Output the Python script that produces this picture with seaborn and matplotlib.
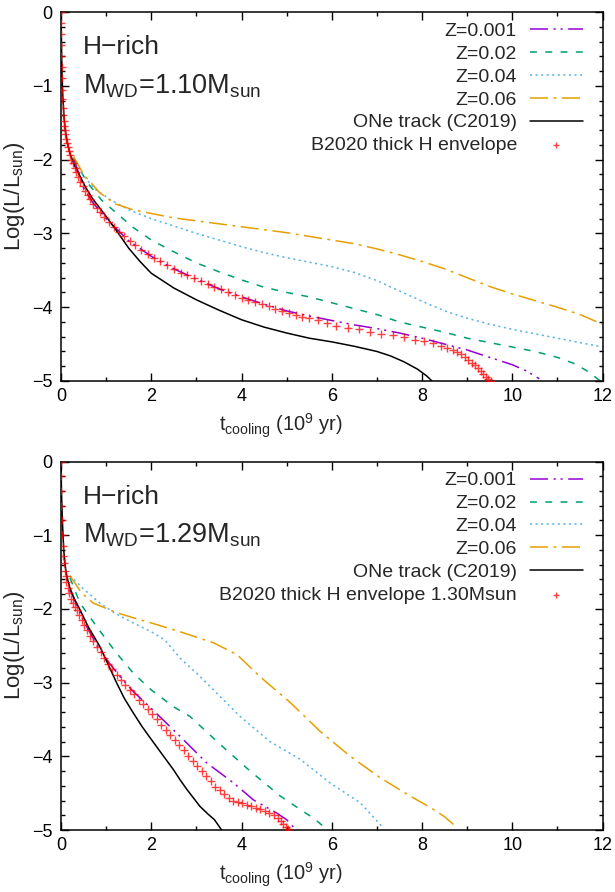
import matplotlib
matplotlib.use('Agg')
import matplotlib.pyplot as plt
from matplotlib.ticker import MultipleLocator
import seaborn as sns

# ---------------- top panel: M_WD = 1.10 Msun ----------------
top_one_x = [0.0, 0.01, 0.02, 0.04, 0.07, 0.1, 0.15, 0.2, 0.3, 0.4, 0.55, 0.7, 0.85, 1.0,
             1.25, 1.5, 1.75, 2.0, 2.5, 3.0, 3.5, 4.0, 4.5, 5.0, 5.5, 6.0, 6.5, 7.0,
             7.3, 7.6, 7.9, 8.1, 8.22]
top_one_y = [0.0, -0.4, -0.8, -1.15, -1.45, -1.62, -1.8, -1.92, -2.08, -2.2, -2.38, -2.53,
             -2.65, -2.77, -2.98, -3.2, -3.38, -3.54, -3.74, -3.9, -4.04, -4.17, -4.27,
             -4.35, -4.42, -4.47, -4.53, -4.6, -4.66, -4.74, -4.84, -4.93, -5.0]

top_z001_x = [0.28, 0.5, 0.7, 1.0, 1.5, 2.0, 2.5, 3.0, 3.5, 4.0, 4.5, 5.0, 5.5, 6.0, 6.5,
              7.0, 7.5, 8.0, 8.5, 9.0, 9.5, 10.0, 10.3, 10.6]
top_z001_y = [-1.98, -2.38, -2.58, -2.8, -3.1, -3.31, -3.48, -3.62, -3.75, -3.86, -3.96,
              -4.05, -4.12, -4.18, -4.24, -4.29, -4.35, -4.42, -4.5, -4.58, -4.68, -4.78,
              -4.86, -4.97]

top_z002_x = [0.28, 0.57, 0.9, 1.24, 1.6, 2.0, 2.5, 3.0, 3.5, 4.0, 4.5, 5.0, 5.5, 6.0, 6.5,
              7.0, 7.5, 8.0, 8.5, 9.0, 9.5, 10.0, 10.5, 11.0, 11.4, 11.7, 11.95]
top_z002_y = [-1.98, -2.3, -2.55, -2.73, -2.92, -3.09, -3.25, -3.4, -3.52, -3.63, -3.73,
              -3.8, -3.86, -3.94, -4.02, -4.1, -4.2, -4.27, -4.34, -4.42, -4.48, -4.54,
              -4.6, -4.68, -4.77, -4.88, -5.0]

top_z004_x = [0.28, 0.49, 0.75, 1.09, 1.5, 2.0, 2.5, 3.0, 3.5, 4.0, 4.5, 5.0, 5.5, 6.0, 6.5,
              7.0, 7.5, 8.0, 8.5, 9.0, 9.5, 10.0, 10.5, 11.0, 11.5, 12.0]
top_z004_y = [-1.97, -2.21, -2.4, -2.54, -2.68, -2.8, -2.9, -3.0, -3.09, -3.18, -3.26,
              -3.33, -3.39, -3.45, -3.53, -3.64, -3.78, -3.92, -4.05, -4.15, -4.23, -4.3,
              -4.36, -4.42, -4.48, -4.54]

top_z006_x = [0.28, 0.5, 0.86, 1.2, 1.6, 2.0, 2.5, 3.0, 3.5, 4.0, 4.5, 5.0, 5.5, 6.0, 6.5,
              7.0, 7.5, 8.0, 8.5, 9.0, 9.5, 10.0, 10.5, 11.0, 11.5, 12.0]
top_z006_y = [-1.96, -2.2, -2.45, -2.6, -2.68, -2.73, -2.79, -2.83, -2.87, -2.91, -2.95,
              -2.99, -3.04, -3.09, -3.14, -3.21, -3.29, -3.38, -3.48, -3.6, -3.72, -3.82,
              -3.91, -4.0, -4.1, -4.23]

top_b2020_x = [0.00, 0.00, 0.01, 0.01, 0.01, 0.02, 0.02, 0.03, 0.03, 0.04,
               0.05, 0.06, 0.07, 0.08, 0.09, 0.11, 0.13, 0.15, 0.17, 0.20,
               0.23, 0.26, 0.30, 0.34, 0.38, 0.43, 0.48, 0.53, 0.59, 0.65,
               0.72, 0.79, 0.87, 0.96, 1.06, 1.17, 1.28, 1.40, 1.52, 1.65,
               1.78, 1.92, 2.06, 2.20, 2.35, 2.50, 2.65, 2.80, 2.95, 3.10,
               3.25, 3.40, 3.55, 3.70, 3.85, 4.00, 4.15, 4.30, 4.45, 4.60,
               4.75, 4.90, 5.05, 5.20, 5.35, 5.50, 5.70, 5.90, 6.10, 6.35,
               6.60, 6.85, 7.10, 7.35, 7.60, 7.85, 8.05, 8.25, 8.42, 8.56,
               8.68, 8.78, 8.87, 8.95, 9.03, 9.10, 9.17, 9.24, 9.30, 9.36,
               9.42, 9.47, 9.52]
top_b2020_y = [0.00, -0.15, -0.30, -0.45, -0.60, -0.75, -0.90, -1.05, -1.18, -1.30,
               -1.40, -1.48, -1.55, -1.60, -1.65, -1.72, -1.78, -1.83, -1.88, -1.94,
               -2.00, -2.05, -2.11, -2.17, -2.23, -2.30, -2.36, -2.42, -2.48, -2.54,
               -2.60, -2.65, -2.71, -2.78, -2.85, -2.92, -2.98, -3.04, -3.10, -3.16,
               -3.22, -3.28, -3.33, -3.38, -3.43, -3.48, -3.53, -3.57, -3.61, -3.65,
               -3.69, -3.72, -3.76, -3.79, -3.83, -3.87, -3.90, -3.93, -3.96, -3.99,
               -4.02, -4.05, -4.08, -4.11, -4.13, -4.15, -4.18, -4.22, -4.25, -4.28,
               -4.30, -4.33, -4.36, -4.38, -4.41, -4.44, -4.46, -4.49, -4.52, -4.55,
               -4.58, -4.61, -4.64, -4.67, -4.71, -4.75, -4.79, -4.83, -4.87, -4.91,
               -4.94, -4.97, -5.00]

# ---------------- bottom panel: M_WD = 1.29 Msun ----------------
bot_one_x = [0.0, 0.01, 0.03, 0.06, 0.1, 0.13, 0.2, 0.3, 0.42, 0.6, 0.86, 1.05, 1.23, 1.4,
             1.6, 1.8, 2.0, 2.25, 2.49, 2.64, 2.79, 3.08, 3.25, 3.4, 3.56]
bot_one_y = [0.0, -0.4, -0.8, -1.2, -1.45, -1.56, -1.72, -1.87, -2.01, -2.24, -2.51, -2.76,
             -3.0, -3.21, -3.41, -3.6, -3.77, -3.98, -4.18, -4.32, -4.45, -4.68, -4.78,
             -4.86, -5.0]

bot_z001_x = [0.2, 0.5, 0.8, 1.05, 1.31, 1.6, 2.0, 2.64, 3.23, 3.82, 4.26, 4.78, 5.0, 5.15]
bot_z001_y = [-1.74, -2.16, -2.5, -2.72, -2.92, -3.12, -3.35, -3.73, -4.09, -4.36, -4.59,
              -4.77, -4.86, -4.96]

bot_z002_x = [0.2, 0.42, 0.79, 1.23, 1.6, 2.0, 2.5, 2.86, 3.53, 4.19, 4.86, 5.37, 5.6, 5.85]
bot_z002_y = [-1.58, -1.92, -2.24, -2.6, -2.87, -3.1, -3.33, -3.46, -3.84, -4.2, -4.54,
              -4.75, -4.84, -4.97]

bot_z004_x = [0.2, 0.5, 0.86, 1.2, 1.6, 2.0, 2.3, 2.64, 3.0, 3.3, 3.97, 4.63, 5.3, 5.96,
              6.63, 7.14]
bot_z004_y = [-1.55, -1.73, -1.92, -2.06, -2.19, -2.31, -2.42, -2.67, -2.87, -3.05, -3.46,
              -3.8, -4.04, -4.36, -4.63, -4.97]

bot_z006_x = [0.2, 0.45, 0.71, 1.23, 1.6, 2.0, 2.64, 3.38, 3.9, 4.41, 5.08, 5.74, 6.41,
              7.07, 7.74, 8.2, 8.5, 8.78]
bot_z006_y = [-1.55, -1.78, -1.92, -2.05, -2.12, -2.19, -2.31, -2.46, -2.62, -2.92, -3.27,
              -3.66, -4.0, -4.29, -4.54, -4.7, -4.82, -4.97]

bot_b2020_x = [0.00, 0.00, 0.01, 0.01, 0.02, 0.03, 0.04, 0.05, 0.06, 0.08,
               0.10, 0.12, 0.15, 0.18, 0.22, 0.26, 0.30, 0.35, 0.40, 0.46,
               0.52, 0.58, 0.65, 0.72, 0.80, 0.88, 0.96, 1.05, 1.14, 1.23,
               1.32, 1.42, 1.52, 1.62, 1.72, 1.82, 1.92, 2.02, 2.12, 2.22,
               2.32, 2.42, 2.52, 2.62, 2.72, 2.82, 2.92, 3.02, 3.12, 3.22,
               3.32, 3.42, 3.52, 3.62, 3.72, 3.82, 3.92, 4.02, 4.12, 4.22,
               4.32, 4.42, 4.52, 4.62, 4.72, 4.80, 4.87, 4.93, 4.98, 5.02,
               5.05]
bot_b2020_y = [0.00, -0.20, -0.40, -0.60, -0.80, -1.00, -1.15, -1.28, -1.38, -1.48,
               -1.56, -1.63, -1.71, -1.78, -1.86, -1.92, -1.97, -2.02, -2.08, -2.15,
               -2.22, -2.29, -2.37, -2.44, -2.52, -2.59, -2.67, -2.75, -2.82, -2.89,
               -2.96, -3.03, -3.10, -3.16, -3.23, -3.29, -3.36, -3.43, -3.50, -3.57,
               -3.64, -3.71, -3.78, -3.85, -3.92, -3.99, -4.06, -4.13, -4.20, -4.27,
               -4.34, -4.41, -4.46, -4.51, -4.56, -4.60, -4.62, -4.64, -4.66, -4.68,
               -4.70, -4.72, -4.74, -4.77, -4.80, -4.84, -4.88, -4.92, -4.96, -4.99,
               -5.02]

labels = ['Z=0.001', 'Z=0.02', 'Z=0.04', 'Z=0.06', 'ONe track (C2019)']
colors = ['#9400D3', '#009E73', '#56B4E9', '#E69F00', 'black']
dashes = [(0, (13, 4, 1.5, 3.5, 1.5, 4)), (0, (5, 6)), (0, (1.5, 2.5)),
          (0, (13, 4, 2, 4)), '-']

sns.set_style('ticks')
plt.rcParams['font.family'] = ['Liberation Sans', 'DejaVu Sans']
plt.rcParams['mathtext.fontset'] = 'custom'
plt.rcParams['mathtext.rm'] = 'Liberation Sans'
plt.rcParams['mathtext.it'] = 'Liberation Sans:italic'
plt.rcParams['lines.scale_dashes'] = False
plt.rcParams['axes.unicode_minus'] = True


def draw_panel(ax, tracks, red_x, red_y, red_label, mass):
    for (xs, ys), lab, col, ls in zip(tracks, labels, colors, dashes):
        sns.lineplot(x=xs, y=ys, ax=ax, sort=False, estimator=None, color=col,
                     linestyle=ls, linewidth=1.1, label=lab)
    sns.scatterplot(x=red_x, y=red_y, ax=ax, marker='+', color='red', s=40,
                    linewidth=1.0, alpha=0.75, edgecolor=None, label=red_label, zorder=5)

    ax.set_xlim(0, 12)
    ax.set_ylim(-5, 0)
    ax.xaxis.set_major_locator(MultipleLocator(2))
    ax.xaxis.set_minor_locator(MultipleLocator(1))
    ax.yaxis.set_major_locator(MultipleLocator(1))
    ax.yaxis.set_minor_locator(MultipleLocator(0.2))
    ax.tick_params(which='both', direction='in', top=True, right=True, width=1.0,
                   labelsize=13, colors='black')
    ax.tick_params(which='major', length=6)
    ax.tick_params(which='minor', length=3)
    ax.tick_params(axis='y', pad=6)
    ax.tick_params(axis='x', pad=5)
    for sp in ax.spines.values():
        sp.set_linewidth(1.1)
        sp.set_color('black')

    ax.set_xlabel(r'$\mathregular{t_{cooling}}$ (10$^{\mathregular{9}}$ yr)', fontsize=14.5,
                  labelpad=5, x=0.407)
    ax.set_ylabel(r'Log(L/L$_{\mathregular{sun}}$)', fontsize=16, labelpad=4)

    ax.text(0.04, 0.905, 'H\u2212rich', transform=ax.transAxes, fontsize=19, va='center')
    ax.text(0.04, 0.80, r'M$_{\mathregular{WD}}$=' + mass + r'M$_{\mathregular{sun}}$',
            transform=ax.transAxes, fontsize=19.5, va='center')

    ax.legend(loc='upper right', bbox_to_anchor=(0.9775, 0.993), frameon=False,
              markerfirst=False, fontsize=14, handlelength=2.7, handletextpad=0.67,
              labelspacing=0.27, borderaxespad=0, markerscale=0.7, scatterpoints=1)


fig = plt.figure(figsize=(6.15, 8.92), dpi=100)
ax1 = fig.add_axes([0.0992, 0.5729, 0.8805, 0.4136])
ax2 = fig.add_axes([0.0992, 0.0695, 0.8805, 0.4131])

draw_panel(ax1,
           [(top_z001_x, top_z001_y), (top_z002_x, top_z002_y), (top_z004_x, top_z004_y),
            (top_z006_x, top_z006_y), (top_one_x, top_one_y)],
           top_b2020_x, top_b2020_y, 'B2020 thick H envelope', '1.10')
draw_panel(ax2,
           [(bot_z001_x, bot_z001_y), (bot_z002_x, bot_z002_y), (bot_z004_x, bot_z004_y),
            (bot_z006_x, bot_z006_y), (bot_one_x, bot_one_y)],
           bot_b2020_x, bot_b2020_y, 'B2020 thick H envelope 1.30Msun', '1.29')

fig.savefig('out.png', dpi=100)
